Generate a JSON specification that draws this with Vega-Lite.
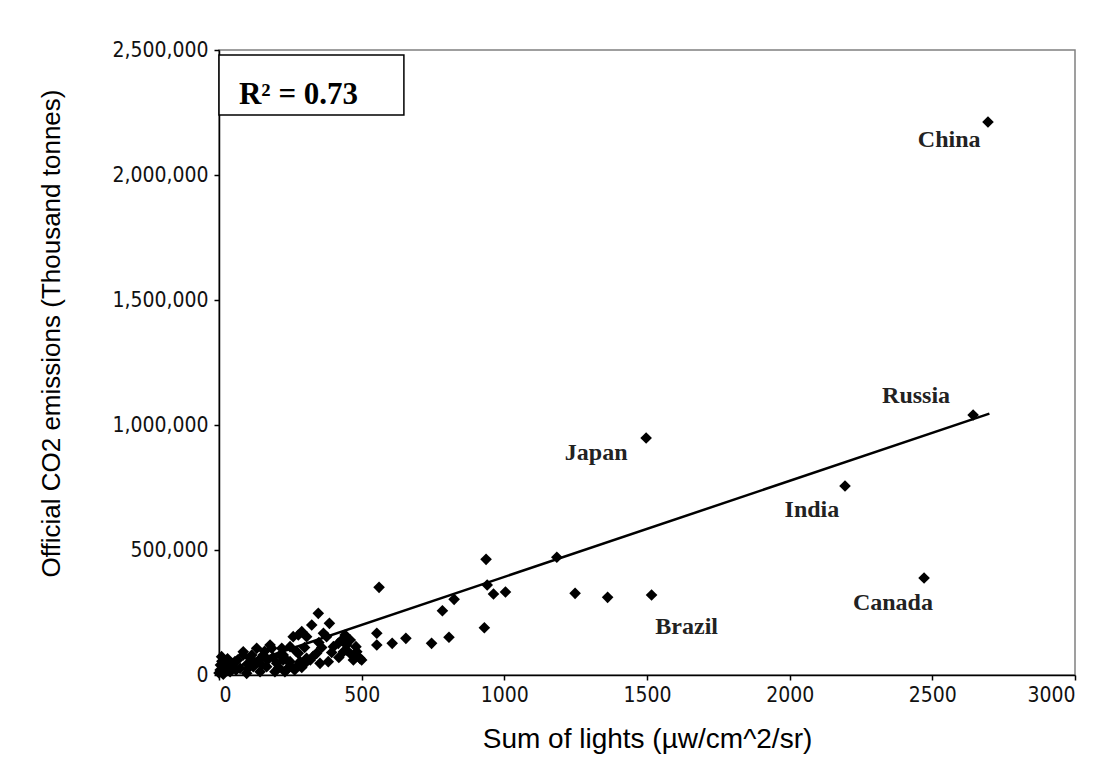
{
  "$schema": "https://vega.github.io/schema/vega-lite/v6.json",
  "width": 856,
  "height": 625,
  "autosize": {"type": "none"},
  "padding": {"left": 219, "top": 50, "right": 45, "bottom": 106},
  "background": "white",
  "config": {
    "view": {"stroke": "#808080", "strokeWidth": 1.5},
    "axis": {
      "grid": false,
      "domainColor": "black",
      "domainWidth": 1.5,
      "tickColor": "black",
      "tickWidth": 1.5,
      "tickSize": 5,
      "labelColor": "#111111",
      "labelFont": "Liberation Sans Narrow, DejaVu Sans Condensed, Liberation Sans",
      "labelFontSize": 21,
      "titleColor": "black",
      "titleFont": "Liberation Sans",
      "titleFontSize": 28,
      "titleFontWeight": "normal"
    }
  },
  "datasets": {
    "points": [
      {"lights": 2695, "co2": 2212000},
      {"lights": 2643, "co2": 1040000},
      {"lights": 1497, "co2": 948000},
      {"lights": 2194, "co2": 756000},
      {"lights": 2471, "co2": 388000},
      {"lights": 1516, "co2": 320000},
      {"lights": 1362, "co2": 310700},
      {"lights": 1248, "co2": 326700},
      {"lights": 1184, "co2": 470800},
      {"lights": 1004, "co2": 332000},
      {"lights": 962, "co2": 324000},
      {"lights": 940, "co2": 360000},
      {"lights": 936, "co2": 462700},
      {"lights": 930, "co2": 189000},
      {"lights": 824, "co2": 302700},
      {"lights": 806, "co2": 151000},
      {"lights": 783, "co2": 257000},
      {"lights": 745, "co2": 126700},
      {"lights": 655, "co2": 146700},
      {"lights": 607, "co2": 126700},
      {"lights": 561, "co2": 350700},
      {"lights": 553, "co2": 167000},
      {"lights": 553, "co2": 120000},
      {"lights": 494, "co2": 66700},
      {"lights": 477, "co2": 80000},
      {"lights": 471, "co2": 60000},
      {"lights": 483, "co2": 93000},
      {"lights": 447, "co2": 120000},
      {"lights": 442, "co2": 160000},
      {"lights": 436, "co2": 93000},
      {"lights": 480, "co2": 113300},
      {"lights": 465, "co2": 80000},
      {"lights": 447, "co2": 100000},
      {"lights": 418, "co2": 126700},
      {"lights": 401, "co2": 113300},
      {"lights": 387, "co2": 206700},
      {"lights": 383, "co2": 53300},
      {"lights": 377, "co2": 153300},
      {"lights": 366, "co2": 166700},
      {"lights": 354, "co2": 46700},
      {"lights": 348, "co2": 246700},
      {"lights": 342, "co2": 86700},
      {"lights": 325, "co2": 200000},
      {"lights": 307, "co2": 66700},
      {"lights": 307, "co2": 153300},
      {"lights": 290, "co2": 173300},
      {"lights": 278, "co2": 160000},
      {"lights": 278, "co2": 86700},
      {"lights": 284, "co2": 53300},
      {"lights": 278, "co2": 40000},
      {"lights": 260, "co2": 153300},
      {"lights": 249, "co2": 113300},
      {"lights": 249, "co2": 53300},
      {"lights": 237, "co2": 60000},
      {"lights": 231, "co2": 13300},
      {"lights": 225, "co2": 80000},
      {"lights": 220, "co2": 106700},
      {"lights": 214, "co2": 80000},
      {"lights": 202, "co2": 46700},
      {"lights": 196, "co2": 13300},
      {"lights": 185, "co2": 106700},
      {"lights": 179, "co2": 120000},
      {"lights": 167, "co2": 33300},
      {"lights": 155, "co2": 80000},
      {"lights": 144, "co2": 13300},
      {"lights": 132, "co2": 106700},
      {"lights": 120, "co2": 33300},
      {"lights": 109, "co2": 66700},
      {"lights": 97, "co2": 6700},
      {"lights": 85, "co2": 93000},
      {"lights": 85, "co2": 80000},
      {"lights": 74, "co2": 26700},
      {"lights": 56, "co2": 53300},
      {"lights": 39, "co2": 13300},
      {"lights": 27, "co2": 40000},
      {"lights": 15, "co2": 3000},
      {"lights": 9, "co2": 73300},
      {"lights": 4, "co2": 20000},
      {"lights": 0, "co2": 8000},
      {"lights": 20, "co2": 30000},
      {"lights": 45, "co2": 45000},
      {"lights": 60, "co2": 20000},
      {"lights": 100, "co2": 25000},
      {"lights": 130, "co2": 50000},
      {"lights": 150, "co2": 40000},
      {"lights": 170, "co2": 60000},
      {"lights": 190, "co2": 70000},
      {"lights": 210, "co2": 30000},
      {"lights": 240, "co2": 25000},
      {"lights": 250, "co2": 35000},
      {"lights": 265, "co2": 20000},
      {"lights": 290, "co2": 30000},
      {"lights": 300, "co2": 45000},
      {"lights": 320, "co2": 60000},
      {"lights": 330, "co2": 75000},
      {"lights": 360, "co2": 110000},
      {"lights": 395, "co2": 90000},
      {"lights": 420, "co2": 70000},
      {"lights": 430, "co2": 140000},
      {"lights": 460, "co2": 140000},
      {"lights": 500, "co2": 60000},
      {"lights": 350, "co2": 130000},
      {"lights": 300, "co2": 110000},
      {"lights": 270, "co2": 95000},
      {"lights": 225, "co2": 60000},
      {"lights": 5, "co2": 40000},
      {"lights": 10, "co2": 55000},
      {"lights": 30, "co2": 65000},
      {"lights": 65, "co2": 60000},
      {"lights": 100, "co2": 45000},
      {"lights": 115, "co2": 80000},
      {"lights": 140, "co2": 60000},
      {"lights": 160, "co2": 95000}
    ],
    "trend": [
      {"lights": 0, "co2": 8500},
      {"lights": 2700, "co2": 1045300}
    ],
    "labels": [
      {"name": "China", "lights": 2559, "co2": 2113000},
      {"name": "Russia", "lights": 2443, "co2": 1086700},
      {"name": "Japan", "lights": 1322, "co2": 860000},
      {"name": "India", "lights": 2078, "co2": 633000},
      {"name": "Canada", "lights": 2362, "co2": 260000},
      {"name": "Brazil", "lights": 1639, "co2": 164000}
    ],
    "box": [
      {"x0": 0, "x1": 648, "y0": 2240000, "y1": 2480000, "tx": 70, "ty": 2284000, "text": "R² = 0.73"}
    ]
  },
  "layer": [
    {
      "data": {"name": "points"},
      "mark": {"type": "point", "shape": "diamond", "filled": true, "color": "black", "size": 135, "opacity": 1},
      "encoding": {
        "x": {
          "field": "lights", "type": "quantitative",
          "scale": {"domain": [0, 3000], "nice": false, "zero": true},
          "axis": {"values": [0, 500, 1000, 1500, 2000, 2500, 3000], "format": "d", "title": "Sum of lights (µw/cm^2/sr)", "labelPadding": 4, "titleBaseline": "alphabetic", "titleY": 72}
        },
        "y": {
          "field": "co2", "type": "quantitative",
          "scale": {"domain": [0, 2500000], "nice": false},
          "axis": {"values": [0, 500000, 1000000, 1500000, 2000000, 2500000], "format": ",.0f", "title": "Official CO2 emissions (Thousand tonnes)", "labelPadding": 6, "titleAngle": -90, "titleBaseline": "alphabetic", "titleX": -160, "titleY": 283, "titleAlign": "center", "titleFontSize": 26}
        }
      }
    },
    {
      "data": {"name": "trend"},
      "mark": {"type": "line", "color": "black", "strokeWidth": 2.5},
      "encoding": {
        "x": {"field": "lights", "type": "quantitative"},
        "y": {"field": "co2", "type": "quantitative"}
      }
    },
    {
      "data": {"name": "labels"},
      "mark": {"type": "text", "font": "Liberation Serif", "fontWeight": "bold", "fontSize": 24, "color": "#222222", "baseline": "alphabetic", "align": "center"},
      "encoding": {
        "x": {"field": "lights", "type": "quantitative"},
        "y": {"field": "co2", "type": "quantitative"},
        "text": {"field": "name"}
      }
    },
    {
      "data": {"name": "box"},
      "mark": {"type": "rect", "fill": "white", "stroke": "black", "strokeWidth": 1.5},
      "encoding": {
        "x": {"field": "x0", "type": "quantitative"},
        "x2": {"field": "x1"},
        "y": {"field": "y0", "type": "quantitative"},
        "y2": {"field": "y1"}
      }
    },
    {
      "data": {"name": "box"},
      "mark": {"type": "text", "font": "Liberation Serif", "fontWeight": "bold", "fontSize": 31, "color": "black", "align": "left", "baseline": "alphabetic"},
      "encoding": {
        "x": {"field": "tx", "type": "quantitative"},
        "y": {"field": "ty", "type": "quantitative"},
        "text": {"field": "text"}
      }
    }
  ]
}
